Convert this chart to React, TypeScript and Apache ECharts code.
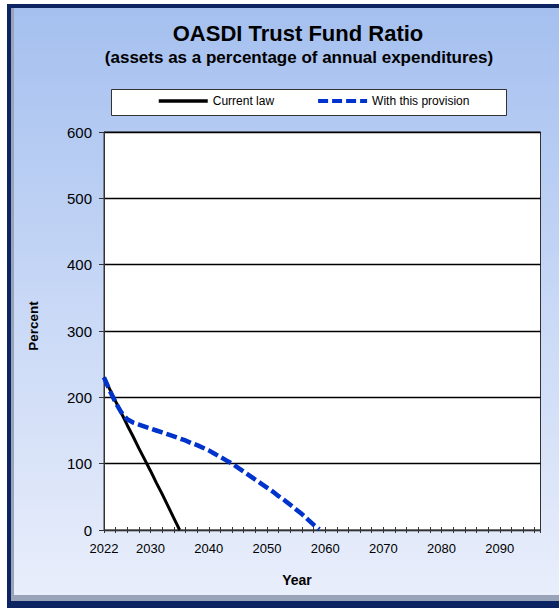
import React, { useEffect, useRef } from "react";
import * as echarts from "echarts";

const years = [
  2022, 2023, 2024, 2025, 2026, 2027, 2028, 2029, 2030, 2031, 2032, 2033, 2034, 2035,
  2036, 2037, 2038, 2039, 2040, 2041, 2042, 2043, 2044, 2045, 2046, 2047, 2048, 2049,
  2050, 2051, 2052, 2053, 2054, 2055, 2056, 2057, 2058, 2059,
];
const currentLaw = [230, 212, 194, 176, 158, 141, 123, 106, 89, 71, 54, 36, 18, 0];
const withProvision = [
  230, 210, 192, 177, 167, 162, 159, 156, 153, 150, 147, 144, 141, 138,
  135, 131, 128, 124, 120, 115, 110, 105, 100, 94, 88, 82, 76, 70,
  64, 58, 51, 45, 38, 31, 24, 16, 8, 1,
];
const xLabelYears = [2022, 2030, 2040, 2050, 2060, 2070, 2080, 2090];
const titleText = "OASDI Trust Fund Ratio";
const subtitleText = "(assets as a percentage of annual expenditures)";
const seriesNames = ["Current law", "With this provision"];

const FONT = "'Liberation Sans', Arial, Helvetica, sans-serif";

export default function App() {
  const ref = useRef<HTMLDivElement>(null);
  useEffect(() => {
    if (!ref.current) return;
    const chart = echarts.init(ref.current, null, { renderer: "svg" });
    const pair = (vals: number[]) => vals.map((v, i) => [years[i], v]);
    const txt = (text: string, x: number, y: number, font: string, extra: any = {}) => ({
      type: "text",
      z: 5,
      x,
      y,
      ...extra,
      style: {
        text,
        fill: "#000000",
        font,
        textAlign: "center",
        align: "center",
        textVerticalAlign: "middle",
        verticalAlign: "middle",
      },
    });
    const option: any = {
      animation: false,
      backgroundColor: "#ffffff",
      textStyle: { fontFamily: FONT },
      graphic: [
        {
          type: "rect",
          z: -10,
          silent: true,
          shape: { x: 7, y: 4, width: 620, height: 620 },
          style: { fill: "#0c2462" },
        },
        {
          type: "rect",
          z: -9,
          silent: true,
          shape: { x: 11, y: 8, width: 620, height: 593 },
          style: { fill: "#9aa4b8" },
        },
        {
          type: "rect",
          z: -8,
          silent: true,
          shape: { x: 14, y: 8, width: 620, height: 587 },
          style: {
            fill: new echarts.graphic.LinearGradient(0, 0, 0, 1, [
              { offset: 0, color: "#a5c0ef" },
              { offset: 0.5, color: "#c8d8f6" },
              { offset: 1, color: "#e9eefb" },
            ]),
          },
        },
        {
          type: "rect",
          z: 1,
          silent: true,
          shape: { x: 111.5, y: 89.5, width: 395, height: 26 },
          style: { fill: "#ffffff", stroke: "#333333", lineWidth: 1 },
        },
        txt(titleText, 298, 33, `bold 22px ${FONT}`),
        txt(subtitleText, 299, 57, `bold 17px ${FONT}`),
        txt("Year", 297, 580, `bold 14px ${FONT}`),
        txt("Percent", 33, 326, `bold 13.5px ${FONT}`, { rotation: Math.PI / 2 }),
      ],
      legend: {
        show: true,
        left: 157,
        top: 95,
        padding: 0,
        itemWidth: 49,
        itemHeight: 14,
        itemGap: 42,
        selectedMode: false,
        data: [
          { name: seriesNames[0], lineStyle: { width: 3.5, color: "#000000" } },
          { name: seriesNames[1], lineStyle: { width: 4, color: "#0033cc", type: [10, 4] } },
        ],
        itemStyle: { opacity: 0 },
        textStyle: { fontSize: 12, color: "#000", fontFamily: FONT },
      },
      grid: {
        left: 104,
        right: 18.5,
        top: 132,
        bottom: 78,
        show: true,
        backgroundColor: "#ffffff",
        borderColor: "#333333",
        borderWidth: 1,
        containLabel: false,
      },
      xAxis: [
        {
          type: "value",
          min: 2022,
          max: 2097,
          interval: 2,
          position: "bottom",
          axisLine: { show: true, onZero: false, lineStyle: { color: "#333", width: 1 } },
          axisTick: { show: true, inside: false, length: 3, lineStyle: { color: "#333", width: 1 } },
          splitLine: { show: false },
          axisLabel: {
            show: true,
            margin: 12,
            fontSize: 13,
            color: "#000",
            fontFamily: FONT,
            formatter: (v: number) => (xLabelYears.indexOf(v) >= 0 ? String(v) : ""),
          },
        },
        {
          type: "value",
          min: 2022,
          max: 2097,
          interval: 2,
          position: "bottom",
          axisLine: { show: false },
          axisTick: { show: true, inside: true, length: 3, lineStyle: { color: "#333", width: 1 } },
          splitLine: { show: false },
          axisLabel: { show: false },
        },
      ],
      yAxis: {
        type: "value",
        min: 0,
        max: 600,
        interval: 100,
        axisLine: { show: true, lineStyle: { color: "#333", width: 1 } },
        axisTick: { show: true, inside: false, length: 5, lineStyle: { color: "#333" } },
        splitLine: { show: true, lineStyle: { color: "#000", width: 1.3 } },
        axisLabel: { margin: 12, fontSize: 15, color: "#000", fontFamily: FONT },
      },
      series: [
        {
          name: seriesNames[0],
          type: "line",
          xAxisIndex: 0,
          data: pair(currentLaw),
          symbol: "none",
          showSymbol: false,
          smooth: false,
          itemStyle: { color: "#000000" },
          lineStyle: { color: "#000000", width: 3 },
          z: 3,
        },
        {
          name: seriesNames[1],
          type: "line",
          xAxisIndex: 0,
          data: pair(withProvision),
          symbol: "none",
          showSymbol: false,
          smooth: false,
          itemStyle: { color: "#0033cc" },
          lineStyle: { color: "#0033cc", width: 4.5, type: [11, 4] },
          z: 4,
        },
      ],
    };
    chart.setOption(option);
    return () => chart.dispose();
  }, []);
  return (
    <div
      ref={ref}
      style={{ position: "absolute", left: 0, top: 0, width: 559, height: 608 }}
    />
  );
}
